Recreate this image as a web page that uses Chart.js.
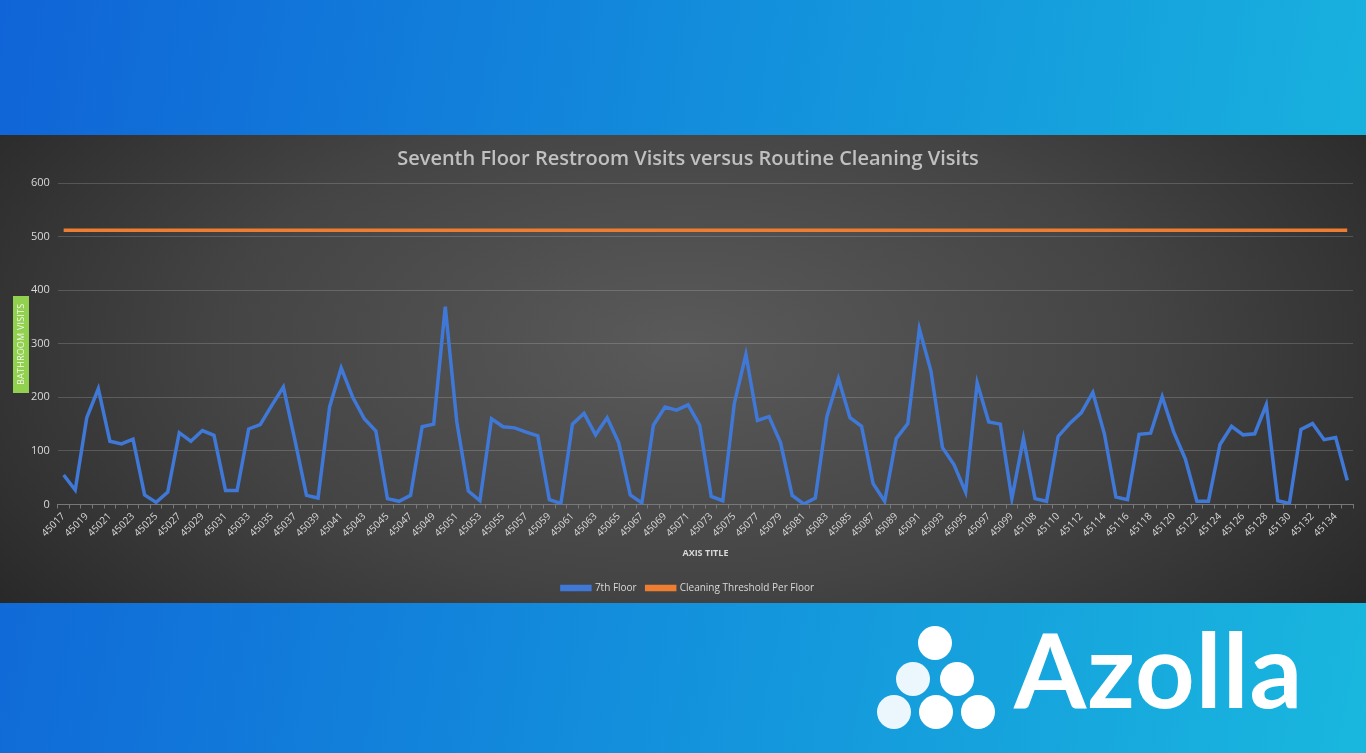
<!DOCTYPE html>
<html>
<head>
<meta charset="utf-8">
<script src="https://cdn.jsdelivr.net/npm/chart.js@4.4.1/dist/chart.umd.min.js"></script>
<style>
  html, body { margin: 0; padding: 0; }
  body {
    width: 1366px; height: 753px; overflow: hidden; position: relative;
    background: linear-gradient(100deg, #1064d7 0%, #138fdc 50%, #19b7de 100%);
    font-family: "Open Sans", sans-serif;
  }
  #chartBox {
    position: absolute; left: 0; top: 135px; width: 1366px; height: 468px;
    background: radial-gradient(ellipse 62% 95% at 50% 45%, #5a5a5a 0%, #444 55%, #282828 100%);
  }
  #yTitle {
    position: absolute; left: 13px; top: 296px; width: 16px; height: 97px;
    background: #92d050; color: #f2f8ea; font-size: 9px; line-height: 16px;
    writing-mode: vertical-rl; transform: rotate(180deg); text-align: center;
    letter-spacing: 0.2px;
  }
  .dot { position: absolute; width: 34px; height: 34px; border-radius: 50%; background: #fff; }
  #logoText {
    position: absolute; left: 1014px; top: 605px; color: #fff;
    font-family: Lato, sans-serif; font-weight: 700; font-size: 104px; letter-spacing: 1px;
  }
</style>
</head>
<body>
<div id="chartBox"><canvas id="visitsChart"></canvas></div>
<div id="yTitle">BATHROOM VISITS</div>

<div class="dot" style="left:918px;top:626px;"></div>
<div class="dot" style="left:896px;top:662px;opacity:0.92"></div>
<div class="dot" style="left:940px;top:662px;"></div>
<div class="dot" style="left:877px;top:695px;opacity:0.92"></div>
<div class="dot" style="left:919px;top:695px;"></div>
<div class="dot" style="left:961px;top:695px;"></div>
<div id="logoText">Azolla</div>

<script>
// Category labels (days) as shown on the x axis
const days = [
  45017, 45018, 45019, 45020, 45021, 45022, 45023, 45024, 45025, 45026,
  45027, 45028, 45029, 45030, 45031, 45032, 45033, 45034, 45035, 45036,
  45037, 45038, 45039, 45040, 45041, 45042, 45043, 45044, 45045, 45046,
  45047, 45048, 45049, 45050, 45051, 45052, 45053, 45054, 45055, 45056,
  45057, 45058, 45059, 45060, 45061, 45062, 45063, 45064, 45065, 45066,
  45067, 45068, 45069, 45070, 45071, 45072, 45073, 45074, 45075, 45076,
  45077, 45078, 45079, 45080, 45081, 45082, 45083, 45084, 45085, 45086,
  45087, 45088, 45089, 45090, 45091, 45092, 45093, 45094, 45095, 45096,
  45097, 45098, 45099, 45100, 45108, 45109, 45110, 45111, 45112, 45113,
  45114, 45115, 45116, 45117, 45118, 45119, 45120, 45121, 45122, 45123,
  45124, 45125, 45126, 45127, 45128, 45129, 45130, 45131, 45132, 45133,
  45134, 45135
];

// 7th floor restroom visits per day
const seventhFloor = [
  55, 27, 162, 216, 118, 113, 122, 18, 4, 23,
  134, 118, 138, 129, 26, 26, 141, 149, 185, 219,
  120, 17, 12, 182, 255, 200, 160, 137, 11, 6,
  17, 145, 150, 369, 154, 25, 7, 160, 145, 143,
  135, 128, 9, 2, 150, 170, 130, 162, 115, 18,
  3, 148, 182, 176, 186, 148, 15, 7, 189, 280,
  157, 164, 115, 17, 1, 12, 164, 235, 162, 146,
  39, 6, 123, 151, 328, 249, 106, 74, 23, 227,
  154, 150, 11, 123, 11, 6, 127, 151, 171, 209,
  132, 14, 9, 131, 133, 201, 135, 85, 6, 6,
  112, 146, 130, 132, 186, 7, 2, 140, 151, 121,
  125, 45
];

// Cleaning threshold per floor (constant)
const cleaningThreshold = 512;
const thresholdLine = days.map(() => cleaningThreshold);

const yTicks = [0, 100, 200, 300, 400, 500, 600];

const ctx = document.getElementById("visitsChart").getContext("2d");
new Chart(ctx, {
  type: "line",
  data: {
    labels: days,
    datasets: [
      {
        label: "7th Floor",
        data: seventhFloor,
        borderColor: "#3f78d6",
        backgroundColor: "#3f78d6",
        borderWidth: 3.5,
        pointRadius: 0,
        tension: 0,
      },
      {
        label: "Cleaning Threshold Per Floor",
        data: thresholdLine,
        borderColor: "#ed7d31",
        backgroundColor: "#ed7d31",
        borderWidth: 3.5,
        pointRadius: 0,
        tension: 0,
      },
    ],
  },
  options: {
    responsive: true,
    maintainAspectRatio: false,
    animation: false,
    layout: { padding: { left: 23, right: 13, top: 2, bottom: 0 } },
    plugins: {
      title: {
        display: true,
        text: "Seventh Floor Restroom Visits versus Routine Cleaning Visits",
        color: "#c0c0c0",
        font: { family: "Open Sans", size: 20, weight: "600" },
        padding: { top: 10, bottom: 12 },
      },
      legend: {
        position: "bottom",
        labels: {
          color: "#d9d9d9",
          font: { family: "Open Sans", size: 10 },
          boxWidth: 28,
          boxHeight: 3,
          padding: 10,
        },
      },
      tooltip: { enabled: false },
    },
    scales: {
      x: {
        offset: true,
        title: {
          display: true,
          text: "AXIS TITLE",
          color: "#d9d9d9",
          font: { family: "Open Sans", size: 9, weight: "bold" },
          padding: { top: 7, bottom: 14 },
        },
        ticks: {
          autoSkip: false,
          maxRotation: 45,
          minRotation: 45,
          color: "#d9d9d9",
          font: { family: "Open Sans", size: 10 },
          padding: 2,
          callback: function (value, index) {
            return index % 2 === 0 ? this.getLabelForValue(value) : "";
          },
        },
        grid: { offset: true, drawOnChartArea: false, tickLength: 4, color: "#787878" },
        border: { color: "#787878" },
      },
      y: {
        min: 0,
        max: 600,
        afterBuildTicks: (axis) => { axis.ticks = yTicks.map((v) => ({ value: v })); },
        ticks: { color: "#d9d9d9", font: { family: "Open Sans", size: 11 }, padding: 8 },
        grid: { color: "rgba(255,255,255,0.17)", drawTicks: false },
        border: { display: false },
      },
    },
  },
});
</script>
</body>
</html>
